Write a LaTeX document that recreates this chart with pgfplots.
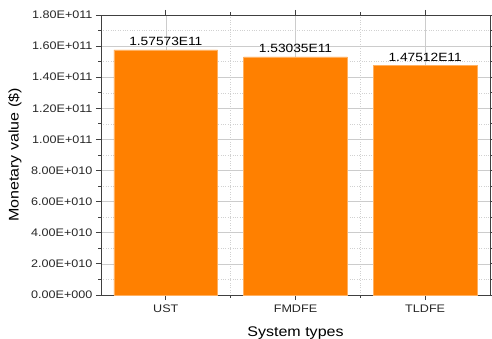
\documentclass[border=0pt]{standalone}
\usepackage{pgfplots}
\pgfplotsset{compat=1.18}
\usepackage{fontspec}
\setmainfont{Liberation Sans}[FakeStretch=1.15]
\definecolor{barorange}{HTML}{FF8000}
\definecolor{baredge}{HTML}{FFB060}
\begin{document}
\begin{tikzpicture}
\path[use as bounding box] (-101bp,-44bp) rectangle (391bp,295bp);
\begin{axis}[
  at={(0,0)}, anchor=south west,
  scale only axis,
  width=389bp, height=280bp,
  xmin=-0.5, xmax=2.5,
  ymin=0, ymax=1.8e11,
  xtick={0,1,2},
  xticklabels={UST,FMDFE,TLDFE},
  ytick={0,2e10,4e10,6e10,8e10,1e11,1.2e11,1.4e11,1.6e11,1.8e11},
  yticklabels={0.00E+000,2.00E+010,4.00E+010,6.00E+010,8.00E+010,1.00E+011,1.20E+011,1.40E+011,1.60E+011,1.80E+011},
  scaled y ticks=false,
  minor x tick num=1,
  minor y tick num=1,
  tick align=outside,
  major tick length=5bp,
  minor tick length=2.5bp,
  xtick pos=both, ytick pos=both,
  grid=both,
  major grid style={draw=black!20, line width=0.6pt},
  minor grid style={draw=black!18, dotted, line width=0.5pt},
  axis line style={draw=black!75, line width=0.8pt},
  every tick/.style={draw=black!75, line width=0.8pt},
  tick label style={font=\fontsize{11}{13}\selectfont, text=black!85},
  xticklabel style={yshift=-1bp},
  xlabel={System types},
  ylabel={Monetary value (\$)},
  xlabel style={at={(axis description cs:0.5,0)}, anchor=base, yshift=-41bp, font=\fontsize{14}{16}\selectfont},
  ylabel style={at={(axis description cs:-0.221,0.5)}, anchor=center, font=\fontsize{14}{16}\selectfont},
  ybar, bar width=0.8,
  nodes near coords,
  point meta=explicit symbolic,
  every node near coord/.append style={anchor=base, yshift=4bp, font=\fontsize{12}{14}\selectfont, text=black},
]
\addplot[fill=barorange, draw=baredge, line width=0.6pt] table[x=x, y=y, meta=label] {
x y label
0 1.57573e11 1.57573E11
1 1.53035e11 1.53035E11
2 1.47512e11 1.47512E11
};
\end{axis}
\end{tikzpicture}
\end{document}
